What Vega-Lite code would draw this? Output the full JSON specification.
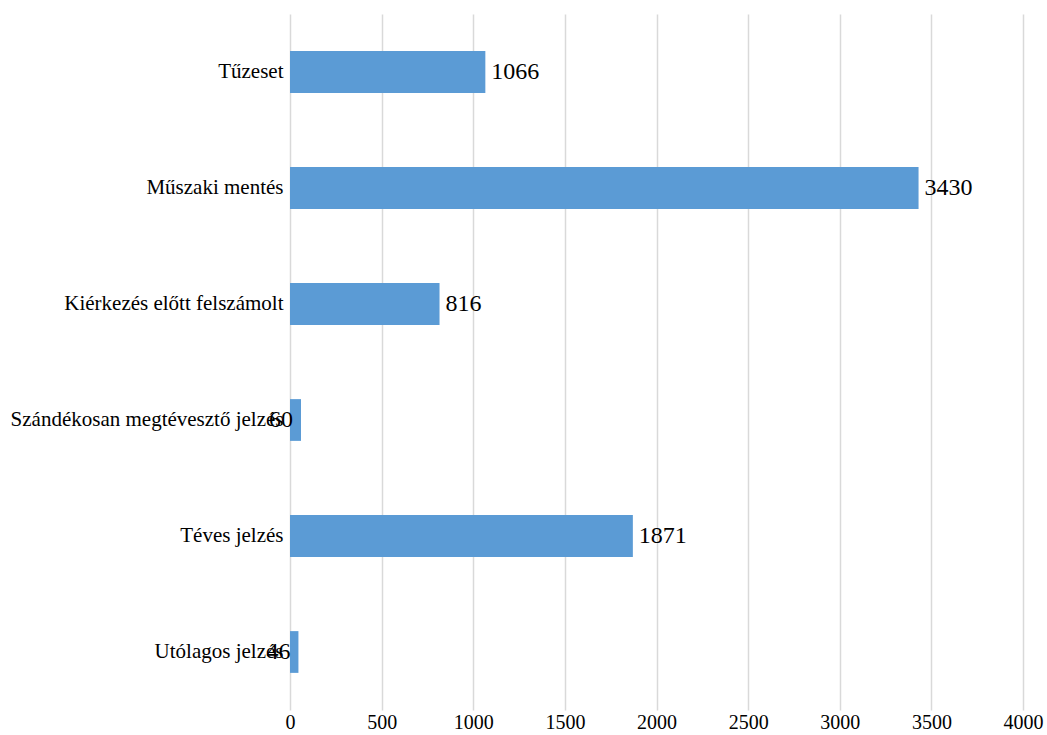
{
  "$schema": "https://vega.github.io/schema/vega-lite/v6.json",
  "autosize": {"type": "none"},
  "padding": {"left": 290, "top": 14, "right": 24, "bottom": 25},
  "width": 733,
  "height": 696,
  "background": "white",
  "config": {
    "view": {"stroke": null},
    "font": "Liberation Serif"
  },
  "data": {
    "values": [
      {"kategoria": "Tűzeset", "ertek": 1066},
      {"kategoria": "Műszaki mentés", "ertek": 3430},
      {"kategoria": "Kiérkezés előtt felszámolt", "ertek": 816},
      {"kategoria": "Szándékosan megtévesztő jelzés", "ertek": 60},
      {"kategoria": "Téves jelzés", "ertek": 1871},
      {"kategoria": "Utólagos jelzés", "ertek": 46}
    ]
  },
  "encoding": {
    "y": {
      "field": "kategoria",
      "type": "nominal",
      "sort": null,
      "scale": {"paddingInner": 0.64, "paddingOuter": 0.32},
      "axis": {
        "title": null,
        "ticks": false,
        "domain": false,
        "labelFont": "Liberation Serif",
        "labelFontSize": 21,
        "labelColor": "#000000",
        "labelPadding": 7,
        "labelLimit": 400
      }
    },
    "x": {
      "field": "ertek",
      "type": "quantitative",
      "scale": {"domain": [0, 4000], "nice": false},
      "axis": {
        "title": null,
        "values": [0, 500, 1000, 1500, 2000, 2500, 3000, 3500, 4000],
        "format": "d",
        "ticks": false,
        "domain": false,
        "grid": true,
        "gridColor": "#d9d9d9",
        "gridWidth": 1.5,
        "labelFont": "Liberation Serif",
        "labelFontSize": 20,
        "labelColor": "#000000",
        "labelPadding": 2,
        "labelFlush": false
      }
    }
  },
  "layer": [
    {"mark": {"type": "bar", "color": "#5B9BD5"}},
    {
      "transform": [{"filter": "datum.ertek >= 100"}],
      "mark": {"type": "text", "align": "left", "baseline": "middle", "dx": 6, "fontSize": 24, "font": "Liberation Serif", "color": "#000000"},
      "encoding": {"text": {"field": "ertek", "type": "quantitative", "format": "d"}}
    },
    {
      "transform": [{"filter": "datum.ertek < 100"}],
      "mark": {"type": "text", "align": "right", "baseline": "middle", "dx": -8, "fontSize": 24, "font": "Liberation Serif", "color": "#000000"},
      "encoding": {"text": {"field": "ertek", "type": "quantitative", "format": "d"}}
    }
  ]
}
